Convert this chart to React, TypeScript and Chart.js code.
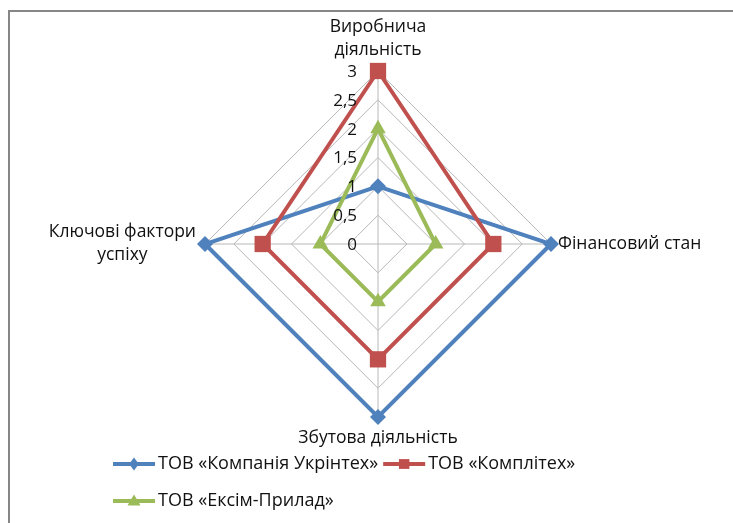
import React, { useEffect, useRef } from "react";
import { Chart, registerables } from "chart.js";

Chart.register(...registerables);

// ---- data ----
const categories: string[][] = [
  ["Виробнича", "діяльність"],
  ["Фінансовий стан"],
  ["Збутова діяльність"],
  ["Ключові фактори", "успіху"],
];
const seriesNames = ["ТОВ «Компанія Укрінтех»", "ТОВ «Комплітех»", "ТОВ «Ексім-Прилад»"];
const ukrintehValues = [1, 3, 3, 3];
const komplitehValues = [3, 2, 2, 2];
const eksimValues = [2, 1, 1, 1];
const scaleMin = 0;
const scaleMax = 3;
const scaleStep = 0.5;

const COLORS = ["#4F81BD", "#C0504D", "#9BBB59"];
const POINT_STYLES = ["rectRot", "rect", "triangle"];
const POINT_RADII = [8, 11.5, 9];
const FONT_FAMILY = '"Open Sans", "Noto Sans", sans-serif';
const LABEL_FONT = `17.5px ${FONT_FAMILY}`;
const LEGEND_FONT = `18px ${FONT_FAMILY}`;
const TICK_FONT = `17px ${FONT_FAMILY}`;
const TEXT_COLOR = "#111";

const framePlugin = {
  id: "frame",
  beforeDraw(chart: any) {
    const ctx = chart.ctx;
    ctx.save();
    ctx.fillStyle = "#ffffff";
    ctx.fillRect(0, 0, chart.width, chart.height);
    ctx.strokeStyle = "#868686";
    ctx.lineWidth = 2;
    ctx.strokeRect(9, 11, chart.width + 20, chart.height + 20);
    ctx.restore();
  },
};

function drawMarker(ctx: CanvasRenderingContext2D, style: string, x: number, y: number, r: number) {
  ctx.beginPath();
  if (style === "rectRot") {
    ctx.moveTo(x - r * 0.75, y);
    ctx.lineTo(x, y - r);
    ctx.lineTo(x + r * 0.75, y);
    ctx.lineTo(x, y + r);
  } else if (style === "rect") {
    ctx.rect(x - r * 0.75, y - r * 0.7, r * 1.5, r * 1.4);
  } else {
    ctx.moveTo(x, y - r);
    ctx.lineTo(x + r, y + r * 0.7);
    ctx.lineTo(x - r, y + r * 0.7);
  }
  ctx.closePath();
  ctx.fill();
}

const labelsPlugin = {
  id: "customLabels",
  afterDraw(chart: any) {
    const ctx = chart.ctx;
    const scale = chart.scales.r;
    ctx.save();
    ctx.fillStyle = TEXT_COLOR;

    // tick labels
    ctx.font = TICK_FONT;
    ctx.textAlign = "right";
    ctx.textBaseline = "middle";
    scale.ticks.forEach((t: any) => {
      const d = scale.getDistanceFromCenterForValue(t.value);
      ctx.fillText(String(t.value).replace(".", ","), scale.xCenter - 21, scale.yCenter - d + 1);
    });

    // point labels
    ctx.font = LABEL_FONT;
    const lh = 23;
    const n = chart.data.labels.length;
    const offsets = [22, 7, 21, 9];
    for (let i = 0; i < n; i++) {
      const lines: string[] = chart.data.labels[i];
      const p = scale.getPointPosition(i, scale.drawingArea + offsets[i]);
      const widths = lines.map((l) => ctx.measureText(l).width);
      const bw = Math.max(...widths);
      ctx.textAlign = "center";
      if (i === 0) {
        lines.forEach((l, k) => ctx.fillText(l, p.x, p.y + 1 - (lines.length - 1 - k) * lh));
      } else if (i === 2) {
        lines.forEach((l, k) => ctx.fillText(l, p.x, p.y + k * lh));
      } else if (i === 1) {
        const cx = p.x + bw / 2;
        const top = p.y - ((lines.length - 1) * lh) / 2;
        lines.forEach((l, k) => ctx.fillText(l, cx, top + k * lh));
      } else {
        const cx = p.x - bw / 2;
        const top = p.y - ((lines.length - 1) * lh) / 2;
        lines.forEach((l, k) => ctx.fillText(l, cx, top + k * lh));
      }
    }

    // legend
    ctx.font = LEGEND_FONT;
    const rows = [[0, 1], [2]];
    const rowY = [464, 501];
    const startX = 113;
    const symW = 42;
    rows.forEach((row, r) => {
      let x = startX;
      row.forEach((di) => {
        const ds = chart.data.datasets[di];
        const y = rowY[r];
        ctx.strokeStyle = ds.borderColor;
        ctx.lineWidth = 4;
        ctx.beginPath();
        ctx.moveTo(x, y);
        ctx.lineTo(x + symW, y);
        ctx.stroke();
        ctx.fillStyle = ds.borderColor;
        drawMarker(ctx, ds.pointStyle, x + symW / 2, y, di === 1 ? 7 : 6.5);
        ctx.fillStyle = TEXT_COLOR;
        ctx.textAlign = "left";
        ctx.textBaseline = "middle";
        ctx.fillText(ds.label, x + symW + 3, y);
        x += symW + 3 + ctx.measureText(ds.label).width + 5;
      });
    });
    ctx.restore();
  },
};

export default function App() {
  const ref = useRef<HTMLCanvasElement | null>(null);
  useEffect(() => {
    if (!ref.current) return;
    const values = [ukrintehValues, komplitehValues, eksimValues];
    const chart = new Chart(ref.current, {
      type: "radar",
      data: {
        labels: categories as any,
        datasets: seriesNames.map((name, i) => ({
          label: name,
          data: values[i],
          borderColor: COLORS[i],
          backgroundColor: COLORS[i],
          pointBackgroundColor: COLORS[i],
          pointBorderColor: COLORS[i],
          pointBorderWidth: 0,
          pointStyle: POINT_STYLES[i] as any,
          pointRadius: POINT_RADII[i],
          borderWidth: 4,
          fill: false,
          order: 3 - i,
        })),
      },
      options: {
        responsive: false,
        animation: false,
        devicePixelRatio: 1,
        layout: { padding: { left: 32, right: 9, top: 71, bottom: 106 } },
        plugins: {
          legend: { display: false },
          tooltip: { enabled: false },
        },
        scales: {
          r: {
            min: scaleMin,
            max: scaleMax,
            ticks: { stepSize: scaleStep, display: false },
            pointLabels: { display: false },
            grid: { color: "#b8b8b8", lineWidth: 1 },
            angleLines: { color: "#b8b8b8", lineWidth: 1 },
          },
        },
      },
      plugins: [framePlugin, labelsPlugin],
    });
    return () => chart.destroy();
  }, []);
  return (
    <div style={{ position: "absolute", left: 0, top: 0, width: 733, height: 523 }}>
      <canvas ref={ref} width={733} height={523} style={{ display: "block" }} />
    </div>
  );
}
